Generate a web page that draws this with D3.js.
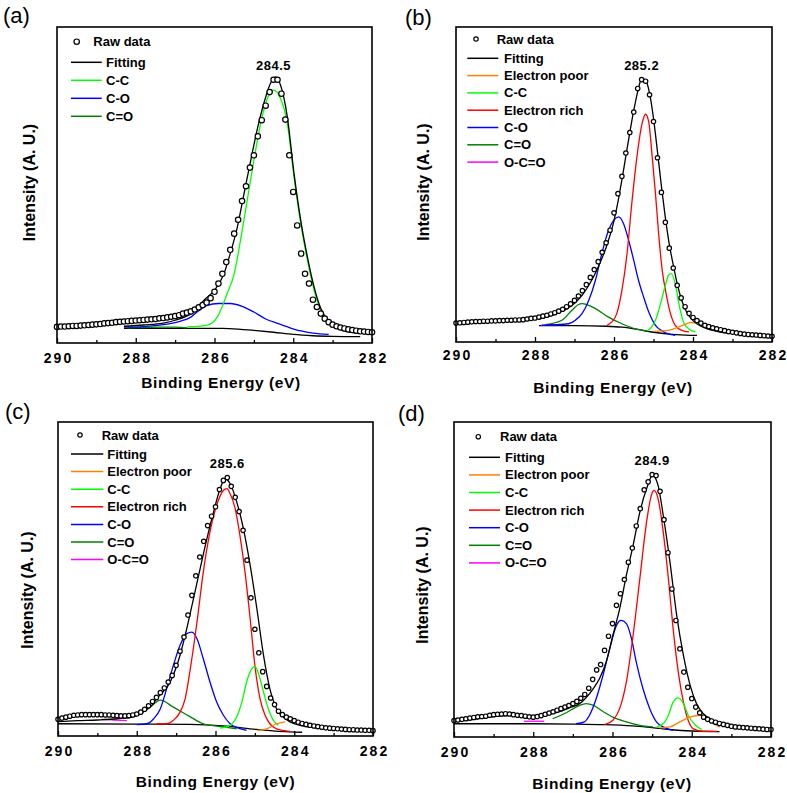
<!DOCTYPE html>
<html><head><meta charset="utf-8">
<script src="https://cdn.jsdelivr.net/npm/d3@7/dist/d3.min.js"></script>
<style>
body{margin:0;background:#fff}
svg{display:block}
text{font-family:Arial,"Liberation Sans",sans-serif;fill:#000}
</style>
</head><body>
<svg id="chart" width="787" height="793"></svg>
<script>
// ---------------- DATA ----------------
const energies = [290.0,289.9,289.8,289.7,289.6,289.5,289.4,289.3,289.2,289.1,
  289.0,288.9,288.8,288.7,288.6,288.5,288.4,288.3,288.2,288.1,
  288.0,287.9,287.8,287.7,287.6,287.5,287.4,287.3,287.2,287.1,
  287.0,286.9,286.8,286.7,286.6,286.5,286.4,286.3,286.2,286.1,
  286.0,285.9,285.8,285.7,285.6,285.5,285.4,285.3,285.2,285.1,
  285.0,284.9,284.8,284.7,284.6,284.5,284.4,284.3,284.2,284.1,
  284.0,283.9,283.8,283.7,283.6,283.5,283.4,283.3,283.2,283.1,
  283.0,282.9,282.8,282.7,282.6,282.5,282.4,282.3,282.2,282.1,
  282.0];
const xTicksMajor = [290,288,286,284,282];
const xTicksMinor = [289,287,285,283];
const panelLetters = ["(a)","(b)","(c)","(d)"];
const peakLabels = ["284.5","285.2","285.6","284.9"];
const xTitle = "Binding Energy (eV)";
const yTitle = "Intensity (A. U.)";
const rawName = "Raw data";
const seriesNames = ["Fitting","Electron poor","C-C","Electron rich","C-O","C=O","O-C=O"];
const legendA = ["Fitting","C-C","C-O","C=O"];
const legendFull = ["Fitting","Electron poor","C-C","Electron rich","C-O","C=O","O-C=O"];

// raw intensities on the energies grid (0 = frame bottom, 100 = frame top)
const rawA = [5.1,5.2,5.2,5.3,5.4,5.4,5.5,5.6,5.7,5.8,
  5.9,6.0,6.2,6.3,6.4,6.6,6.7,6.8,6.9,7.0,
  7.1,7.2,7.3,7.4,7.5,7.6,7.8,7.9,8.1,8.3,
  8.5,8.8,9.3,9.6,10.0,10.6,11.3,12.0,12.8,14.2,
  16.2,18.8,21.9,25.6,29.5,34.6,39.0,44.9,49.6,55.5,
  59.4,65.4,70.5,75.1,79.4,83.3,83.3,78.9,70.7,59.4,
  47.8,37.2,28.3,21.9,18.8,13.7,11.4,9.3,7.7,6.6,
  5.8,5.3,4.9,4.6,4.3,4.1,3.9,3.7,3.6,3.5,
  3.4];
const rawB = [6.0,6.1,6.2,6.3,6.4,6.5,6.5,6.6,6.6,6.7,
  6.7,6.8,6.8,6.9,6.9,7.0,7.0,7.1,7.3,7.5,
  7.6,7.9,8.2,8.5,8.9,9.3,9.8,10.4,11.2,12.1,
  13.2,14.6,16.3,18.2,20.5,23.0,25.5,28.5,31.5,35.5,
  41.0,47.1,52.6,60.0,66.5,73.0,80.5,83.3,82.8,78.5,
  70.0,58.5,47.5,38.0,29.8,23.5,18.0,14.0,11.2,9.1,
  7.8,6.8,6.0,5.3,4.9,4.5,4.2,3.9,3.6,3.3,
  3.1,2.9,2.7,2.5,2.4,2.3,2.2,2.1,2.0,1.9,
  1.8];
const rawC = [5.3,5.7,6.0,6.3,6.6,6.7,6.8,6.8,6.8,6.8,
  6.8,6.8,6.7,6.7,6.6,6.5,6.4,6.4,6.5,6.7,
  7.0,7.6,8.5,9.6,11.0,12.3,13.8,15.3,17.2,19.3,
  22.5,27.0,31.5,38.5,44.8,51.0,57.0,62.0,67.0,70.0,
  73.0,78.5,81.4,82.3,79.5,76.0,71.5,65.5,56.0,44.0,
  34.0,26.5,20.5,15.8,12.1,10.0,7.9,6.8,6.0,5.5,
  4.9,4.4,4.0,3.7,3.4,3.2,3.0,2.8,2.6,2.5,
  2.4,2.3,2.2,2.1,2.0,2.0,1.9,1.9,1.8,1.8,
  1.7];
const rawD = [5.2,5.4,5.6,5.8,6.0,6.2,6.4,6.5,6.6,6.9,
  7.1,7.2,7.3,7.4,7.3,7.1,6.9,6.8,6.6,6.4,
  6.3,6.5,6.8,7.2,7.6,8.0,8.5,9.0,9.5,10.0,
  10.6,11.3,12.3,13.5,15.5,18.3,21.3,23.0,27.5,32.0,
  36.0,41.8,45.5,50.0,55.5,60.0,67.0,72.5,78.5,81.0,
  83.3,83.0,78.0,69.0,58.5,47.0,37.0,28.0,20.6,15.8,
  12.2,9.5,7.7,6.3,5.6,5.1,4.7,4.3,4.0,3.7,
  3.4,3.2,3.1,3.0,2.9,2.8,2.7,2.6,2.5,2.4,
  2.4];

// fitted curves: [binding energy, intensity]
const bgA = [[288.3,4.6],[287.5,4.6],[286.5,4.6],[285.8,4.6],[285.4,4.4],[285.0,4.0],[284.5,3.4],[284.0,2.7],[283.5,2.3],[283.0,2.1],[282.3,2.0]];
const fitA = [[288.3,5.3],[287.8,5.7],[287.3,6.3],[287.0,7.2],[286.6,9.3],[286.27,13.5],[286.0,16.7],[285.76,21.9],[285.6,28.3],[285.42,36.7],[285.25,47.3],[285.08,57.8],[284.92,67.3],[284.75,75.7],[284.58,82.1],[284.45,84.2],[284.32,81.5],[284.15,71.5],[283.98,53.6],[283.81,38.8],[283.64,27.2],[283.47,17.7],[283.3,10.9],[283.05,6.2],[282.75,4.0],[282.3,3.0]];
const ccA = [[286.7,5.1],[286.2,5.6],[285.93,8.2],[285.68,15.6],[285.5,21.9],[285.34,32.5],[285.17,45.1],[285.0,57.8],[284.83,69.4],[284.66,77.3],[284.5,80.0],[284.32,77.3],[284.15,69.4],[283.98,52.5],[283.81,37.8],[283.64,26.2],[283.47,16.7],[283.3,10.3],[283.05,6.1],[282.8,4.5],[282.55,3.5]];
const coA = [[288.3,5.0],[287.8,5.2],[287.3,5.8],[286.9,6.8],[286.6,8.2],[286.4,10.2],[286.2,11.8],[285.9,12.5],[285.6,12.5],[285.3,11.6],[285.0,9.8],[284.7,7.6],[284.4,6.2],[284.1,4.9],[283.8,3.8],[283.5,3.1],[283.1,2.7]];
const cdoA = [[288.2,4.8],[287.8,4.9],[287.4,5.0],[287.0,5.0],[286.7,4.8]];

const bgB = [[287.9,5.2],[287.0,5.2],[286.2,5.0],[285.8,4.7],[285.4,4.0],[285.0,3.1],[284.6,2.5],[284.2,2.2],[283.9,2.1]];
const fitB = [[287.9,7.3],[287.5,8.8],[287.2,10.5],[287.0,12.3],[286.8,15.0],[286.6,18.8],[286.4,23.8],[286.2,30.0],[286.0,38.5],[285.9,44.5],[285.8,51.5],[285.7,59.0],[285.6,66.5],[285.5,73.5],[285.4,79.5],[285.3,83.5],[285.2,83.0],[285.1,79.0],[285.0,71.0],[284.9,60.5],[284.8,49.5],[284.7,39.5],[284.6,31.0],[284.5,24.5],[284.4,18.5],[284.3,13.8],[284.2,10.5],[284.1,8.3],[284.0,6.8],[283.8,5.0],[283.6,4.0],[283.4,3.4],[283.1,2.8]];
const poorB = [[285.0,3.4],[284.8,3.5],[284.6,3.8],[284.4,4.6],[284.2,5.6],[284.05,6.2],[283.95,6.0]];
const ccB = [[285.16,3.5],[284.95,6.9],[284.82,12.2],[284.7,18.0],[284.62,21.2],[284.55,21.7],[284.45,18.5],[284.34,11.1],[284.24,6.3],[284.11,4.2],[283.94,3.2]];
const richB = [[286.18,5.3],[286.06,6.3],[285.93,9.0],[285.8,16.4],[285.67,28.0],[285.55,43.9],[285.42,58.7],[285.29,69.3],[285.2,72.3],[285.12,69.8],[285.04,59.8],[284.95,47.1],[284.87,34.4],[284.78,22.8],[284.68,15.3],[284.57,9.0],[284.45,5.3],[284.28,3.7],[284.1,3.2]];
const coB = [[287.83,5.3],[287.15,5.8],[286.98,6.9],[286.81,9.0],[286.64,13.2],[286.47,19.6],[286.31,28.0],[286.14,35.4],[286.01,38.6],[285.88,39.7],[285.76,37.6],[285.63,32.3],[285.5,25.9],[285.38,19.6],[285.25,14.3],[285.12,9.5],[284.95,5.3],[284.78,3.5],[284.62,2.6],[284.45,2.1]];
const cdoB = [[287.74,5.5],[287.32,6.9],[287.07,10.0],[286.9,11.9],[286.81,12.2],[286.47,10.6],[286.14,7.9],[285.8,5.8],[285.46,4.2],[285.16,3.5]];
const ocoB = [[287.85,5.3],[287.6,5.5],[287.35,5.6]];

const bgC = [[290.0,3.9],[288.0,3.8],[286.64,3.7],[285.8,3.2],[284.95,2.1],[284.11,1.3],[283.8,1.2]];
const fitC = [[290.0,4.6],[289.5,4.9],[289.0,5.1],[288.5,5.5],[288.0,6.5],[287.8,8.0],[287.6,10.0],[287.49,11.9],[287.15,17.2],[286.9,25.7],[286.73,34.2],[286.56,43.7],[286.39,53.3],[286.22,62.8],[286.05,71.3],[285.88,78.8],[285.76,82.0],[285.63,80.4],[285.46,74.5],[285.29,66.0],[285.12,54.4],[284.95,40.6],[284.78,25.7],[284.62,15.1],[284.45,8.7],[284.28,6.1],[284.11,4.5],[283.85,3.4],[283.5,2.7],[283.0,2.2]];
const poorC = [[284.95,1.8],[284.7,2.3],[284.45,3.9],[284.23,4.5]];
const ccC = [[285.88,2.5],[285.63,3.4],[285.46,6.1],[285.33,10.8],[285.21,17.2],[285.08,21.4],[285.0,22.2],[284.91,19.9],[284.78,14.0],[284.66,8.7],[284.53,5.0],[284.4,3.4]];
const richC = [[287.49,3.9],[287.24,3.9],[287.07,5.0],[286.9,7.6],[286.77,11.9],[286.64,21.4],[286.47,36.3],[286.31,52.2],[286.14,65.0],[285.97,73.5],[285.8,78.2],[285.71,78.8],[285.63,77.2],[285.5,72.4],[285.38,63.9],[285.25,52.2],[285.12,37.4],[285.0,22.5],[284.87,11.9],[284.74,6.6],[284.62,3.9],[284.45,2.3],[284.11,1.5]];
const coC = [[288.0,3.6],[287.74,3.9],[287.57,5.5],[287.4,8.7],[287.24,15.1],[287.07,22.5],[286.9,28.9],[286.73,32.6],[286.6,33.1],[286.47,31.0],[286.31,24.6],[286.14,17.2],[285.97,10.8],[285.8,6.6],[285.63,3.9],[285.42,2.5],[285.21,1.8]];
const cdoC = [[288.25,5.5],[287.91,7.1],[287.66,9.2],[287.4,11.4],[287.07,9.2],[286.64,6.1],[286.31,3.9],[285.8,2.9],[285.46,2.3]];
const ocoC = [[288.9,5.3],[288.6,5.1],[288.25,4.9]];

const bgD = [[290.0,4.2],[289.0,4.2],[288.0,4.2],[287.0,4.1],[286.2,3.9],[285.5,3.5],[285.0,3.0],[284.5,2.3],[284.0,1.9],[283.3,1.7]];
const fitD = [[290.0,5.0],[289.5,5.6],[289.0,6.5],[288.5,6.8],[288.0,6.3],[287.5,7.5],[287.1,9.2],[286.83,10.6],[286.49,15.3],[286.33,18.5],[286.16,23.8],[285.99,32.3],[285.82,40.7],[285.65,51.3],[285.48,60.8],[285.31,71.4],[285.14,78.8],[284.99,83.1],[284.85,79.9],[284.72,70.4],[284.55,55.6],[284.38,38.6],[284.21,25.9],[284.04,16.4],[283.88,10.6],[283.71,7.4],[283.45,5.3],[283.12,3.7],[282.6,2.9],[282.1,2.6]];
const poorD = [[284.81,2.9],[284.55,3.2],[284.3,4.8],[284.05,6.3],[283.79,6.9],[283.62,5.8],[283.45,4.2],[283.29,3.2]];
const ccD = [[284.89,3.2],[284.72,4.2],[284.59,6.9],[284.47,11.1],[284.34,12.4],[284.21,10.6],[284.09,6.9],[283.92,3.9],[283.75,2.4]];
const richD = [[286.2,3.9],[285.99,5.3],[285.82,9.0],[285.65,17.5],[285.48,32.3],[285.31,50.3],[285.14,68.3],[285.02,76.7],[284.95,78.3],[284.85,75.7],[284.72,65.1],[284.59,50.3],[284.47,34.4],[284.34,20.6],[284.21,11.1],[284.09,5.3],[283.96,2.6],[283.71,1.8],[283.37,1.8]];
const coD = [[286.92,4.2],[286.71,4.8],[286.58,6.9],[286.41,12.2],[286.24,19.6],[286.07,28.0],[285.9,35.4],[285.78,37.0],[285.65,36.0],[285.52,31.2],[285.4,23.8],[285.23,15.3],[285.06,9.0],[284.89,4.8],[284.72,3.2],[284.47,2.1]];
const cdoD = [[287.51,5.8],[287.17,7.7],[286.92,9.5],[286.66,10.6],[286.49,10.1],[286.24,8.1],[285.99,6.3],[285.65,4.8],[285.31,3.7],[284.98,3.2]];
const ocoD = [[288.23,5.0],[287.95,5.0],[287.72,5.0]];

// ---------------- STYLE / LAYOUT ----------------
const colors = {"Fitting":"#000000","Electron poor":"#ff8000","C-C":"#00ff00","Electron rich":"#ff0000","C-O":"#0000ff","C=O":"#008000","O-C=O":"#ff00ff"};

const panels = [
  {letter:panelLetters[0], peak:peakLabels[0], raw:rawA, bg:bgA,
   comps:[["C=O",cdoA],["C-O",coA],["C-C",ccA],["Fitting",fitA]], legend:legendA,
   box:{l:57,r:372,t:27,b:343}, pad:10, r:2.7,
   letterPos:[3,23], xTitlePos:[221,388], yTitlePos:[35,182.5],
   leg:{mx:76.7, tx:93.3, ry:41.7, lx1:71, lx2:101.7, ltx:106, y0:62.3, dy:18}},
  {letter:panelLetters[1], peak:peakLabels[1], raw:rawB, bg:bgB,
   comps:[["O-C=O",ocoB],["C=O",cdoB],["C-O",coB],["Electron rich",richB],["C-C",ccB],["Electron poor",poorB],["Fitting",fitB]], legend:legendFull,
   box:{l:456,r:772,t:27,b:342}, pad:8, r:2.2,
   letterPos:[405,24.5], xTitlePos:[613,392.5], yTitlePos:[429,182],
   leg:{mx:476, tx:496.7, ry:39, lx1:467.3, lx2:498.3, ltx:504, y0:58.3, dy:17.3}},
  {letter:panelLetters[2], peak:peakLabels[2], raw:rawC, bg:bgC,
   comps:[["O-C=O",ocoC],["C=O",cdoC],["C-O",coC],["Electron rich",richC],["C-C",ccC],["Electron poor",poorC],["Fitting",fitC]], legend:legendFull,
   box:{l:58,r:373,t:422,b:736}, pad:10.5, r:2.2,
   letterPos:[5,419], xTitlePos:[215.5,786.5], yTitlePos:[33,590],
   leg:{mx:80, tx:101.7, ry:435, lx1:71, lx2:103.3, ltx:107.3, y0:454, dy:17.6}},
  {letter:panelLetters[3], peak:peakLabels[3], raw:rawD, bg:bgD,
   comps:[["O-C=O",ocoD],["C=O",cdoD],["C-O",coD],["Electron rich",richD],["C-C",ccD],["Electron poor",poorD],["Fitting",fitD]], legend:legendFull,
   box:{l:454,r:771,t:422,b:737}, pad:10, r:2.2,
   letterPos:[398,421], xTitlePos:[612,789], yTitlePos:[428,585],
   leg:{mx:478.3, tx:500, ry:436.7, lx1:469, lx2:500, ltx:505, y0:457.3, dy:17.6}}
];

const svg = d3.select("#chart");
svg.append("rect").attr("width",787).attr("height",793).attr("fill","#fff");
const FONT = "Arial, 'Liberation Sans', sans-serif";

panels.forEach(p => {
  const B = p.box;
  const x = d3.scaleLinear().domain([290,282]).range([B.l,B.r]);
  const y = d3.scaleLinear().domain([0,100]).range([B.b,B.t]);
  const g = svg.append("g");

  const line = d3.line().x(d=>x(d[0])).y(d=>y(d[1])).curve(d3.curveMonotoneX);

  const plot = g.append("g");
  // background
  plot.append("path").datum(p.bg).attr("d",line).attr("fill","none")
    .attr("stroke",colors["Fitting"]).attr("stroke-width",1.3);
  // components + fitting
  p.comps.forEach(([name,data]) => {
    plot.append("path").datum(data).attr("d",line).attr("fill","none")
      .attr("stroke",colors[name]).attr("stroke-width",1.3);
  });
  // raw points
  const rawPts = energies.map((e,i)=>[e,p.raw[i]]);
  plot.selectAll("circle.raw").data(rawPts).join("circle").attr("class","raw")
    .attr("cx",d=>x(d[0])).attr("cy",d=>y(d[1])).attr("r",p.r)
    .attr("fill","#fff").attr("stroke","#000").attr("stroke-width",1.2);

  // peak label
  const imax = d3.maxIndex(p.raw);
  g.append("text").attr("x",x(energies[imax])).attr("y",y(p.raw[imax])-10)
    .attr("text-anchor","middle").attr("font-size",13).attr("font-weight","bold")
    .attr("letter-spacing","0.5px").text(p.peak);

  // frame
  g.append("rect").attr("x",B.l).attr("y",B.t).attr("width",B.r-B.l).attr("height",B.b-B.t)
    .attr("fill","none").attr("stroke","#000").attr("stroke-width",1.6);

  // axes
  const gx = g.append("g").attr("transform",`translate(0,${B.b})`)
    .call(d3.axisBottom(x).tickValues(xTicksMajor).tickSizeInner(-5).tickSizeOuter(0)
      .tickPadding(p.pad).tickFormat(d3.format("d")));
  gx.select(".domain").remove();
  gx.attr("font-family",FONT).attr("font-size",14).attr("font-weight","bold");
  gx.selectAll("line").attr("stroke-width",1.3);
  gx.selectAll("text").attr("letter-spacing","2px").attr("dx","1px");
  const gm = g.append("g").attr("transform",`translate(0,${B.b})`)
    .call(d3.axisBottom(x).tickValues(xTicksMinor).tickSizeInner(-3).tickSizeOuter(0).tickFormat(""));
  gm.select(".domain").remove();
  gm.selectAll("line").attr("stroke-width",1.3);

  // titles
  g.append("text").attr("x",p.xTitlePos[0]).attr("y",p.xTitlePos[1]).attr("text-anchor","middle")
    .attr("font-size",15.5).attr("font-weight","bold").attr("letter-spacing","0.6px").text(xTitle);
  g.append("text").attr("transform",`translate(${p.yTitlePos[0]},${p.yTitlePos[1]}) rotate(-90)`)
    .attr("text-anchor","middle").attr("font-size",16).attr("font-weight","bold").text(yTitle);
  g.append("text").attr("x",p.letterPos[0]).attr("y",p.letterPos[1])
    .attr("font-size",22).text(p.letter);

  // legend
  const L = p.leg;
  g.append("circle").attr("cx",L.mx).attr("cy",L.ry).attr("r",p.r)
    .attr("fill","#fff").attr("stroke","#000").attr("stroke-width",1.2);
  g.append("text").attr("x",L.tx).attr("y",L.ry).attr("dy","0.35em")
    .attr("font-size",13).attr("font-weight","bold").text(rawName);
  p.legend.forEach((name,i) => {
    const yy = L.y0 + i*L.dy;
    g.append("line").attr("x1",L.lx1).attr("x2",L.lx2).attr("y1",yy).attr("y2",yy)
      .attr("stroke",colors[name]).attr("stroke-width",1.5);
    g.append("text").attr("x",L.ltx).attr("y",yy).attr("dy","0.35em")
      .attr("font-size",13).attr("font-weight","bold").text(name);
  });
});
</script>
</body></html>
